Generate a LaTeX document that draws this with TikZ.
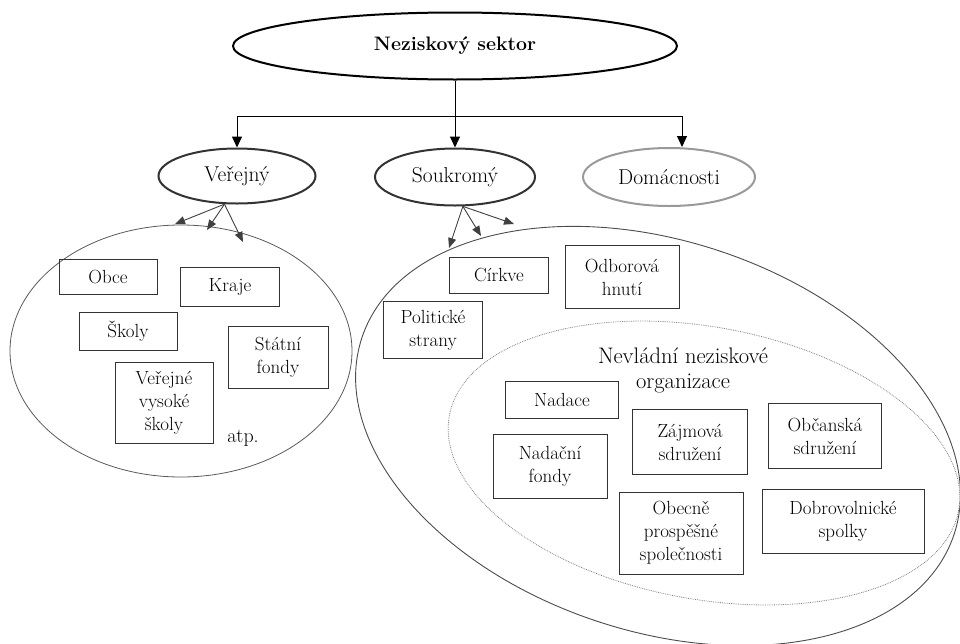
\documentclass[tikz,border=0pt]{standalone}
\usepackage{fontspec}
\usetikzlibrary{shapes.geometric,arrows.meta}

\tikzset{
  box/.style={draw=black!80, line width=0.8pt, align=center, inner sep=2pt,
    font=\fontsize{19}{23}\selectfont},
  level/.style={ellipse, draw=black!80, line width=2pt, inner sep=0pt,
    font=\fontsize{21.5}{25}\selectfont},
  mainarrow/.style={draw=black, line width=1pt, -{Triangle[length=11pt,width=10pt]}},
  subarrow/.style={draw=black!75, line width=0.9pt, -{Triangle[length=10pt,width=8pt]}}
}

\begin{document}
\begin{tikzpicture}[x=1pt,y=-1pt]

  % Fix the size of the page
  \useasboundingbox (0,0) rectangle (960,643);

  % Draw the top ellipse
  \node[ellipse, draw, line width=2pt, minimum width=444, minimum height=67,
    font=\fontsize{19.5}{23}\selectfont\bfseries] (sektor) at (455,46) {Neziskový sektor};

  % Draw the three sectors
  \node[level, minimum width=157, minimum height=55] (verejny) at (237,176) {Veřejný};
  \node[level, minimum width=160, minimum height=57] (soukromy) at (455,177) {Soukromý};
  \node[level, draw=black!40, minimum width=172, minimum height=58] (domacnosti) at (669,177) {Domácnosti};

  % Split point below the top ellipse
  \coordinate (split) at (455,116);

  % Draw the tree lines
  \draw[line width=1pt] (sektor.south) -- (split);
  \draw[mainarrow] (split) -| (verejny.north);
  \draw[mainarrow] (split) -- (soukromy.north);
  \draw[mainarrow] (split) -| ([xshift=13pt]domacnosti.north);

  % Draw the public region
  \draw[black!65, line width=0.8pt] (181,351) ellipse [x radius=171, y radius=126];

  % Draw the private region (tilted)
  \draw[black!70, line width=0.9pt, rotate around={-18.4:(658,436)}]
    (658,436) ellipse [x radius=312, y radius=195];

  % Draw the NGO region inside it
  \draw[black!50, densely dotted, line width=0.8pt, rotate around={-10.6:(704,463)}]
    (704,463) ellipse [x radius=259, y radius=136];

  % Ends of the small arrows on the regions
  \coordinate (v1) at (175,224);
  \coordinate (v2) at (207,230);
  \coordinate (v3) at (243,242);
  \coordinate (s1) at (449,248);
  \coordinate (s2) at (481,236);
  \coordinate (s3) at (514,224);

  % Draw the small arrows
  \draw[subarrow] (verejny.246) -- (v1);
  \draw[subarrow] (verejny.246) -- (v2);
  \draw[subarrow] (verejny.246) -- (v3);
  \draw[subarrow] (soukromy.285) -- (s1);
  \draw[subarrow] (soukromy.285) -- (s2);
  \draw[subarrow] (soukromy.285) -- (s3);

  % Boxes of the public sector
  \node[box, minimum width=98, minimum height=35] (obce) at (108,277) {Obce};
  \node[box, minimum width=99, minimum height=39] (kraje) at (230,287) {Kraje};
  \node[box, minimum width=98, minimum height=38] (skoly) at (128,331) {Školy};
  \node[box, minimum width=100, minimum height=62] (fondy) at (278,357) {Státní\\fondy};
  \node[box, minimum width=98, minimum height=81] (vysoke) at (164,403) {Veřejné\\vysoké\\školy};
  \node[font=\fontsize{20}{23}\selectfont] (atp) at (243,438) {atp.};

  % Boxes of the private sector
  \node[box, minimum width=99, minimum height=36] (cirkve) at (499,275) {Církve};
  \node[box, minimum width=114, minimum height=63] (odbory) at (622,277) {Odborová\\hnutí};
  \node[box, minimum width=99, minimum height=57] (strany) at (433,330) {Politické\\strany};

  % Label of the NGO region
  \node[align=center, font=\fontsize{22.5}{25}\selectfont] (nno) at (683,370)
    {Nevládní neziskové\\organizace};

  % Boxes of the NGO region
  \node[box, minimum width=113, minimum height=37] (nadace) at (562,400) {Nadace};
  \node[box, minimum width=114, minimum height=64] (nadfondy) at (550,466) {Nadační\\fondy};
  \node[box, minimum width=115, minimum height=65] (zajmova) at (690,442) {Zájmová\\sdružení};
  \node[box, minimum width=113, minimum height=65] (obcanska) at (825,436) {Občanská\\sdružení};
  \node[box, minimum width=124, minimum height=82] (ops) at (681,533) {Obecně\\prospěšné\\společnosti};
  \node[box, minimum width=162, minimum height=64] (spolky) at (843,521) {Dobrovolnické\\spolky};

\end{tikzpicture}
\end{document}
